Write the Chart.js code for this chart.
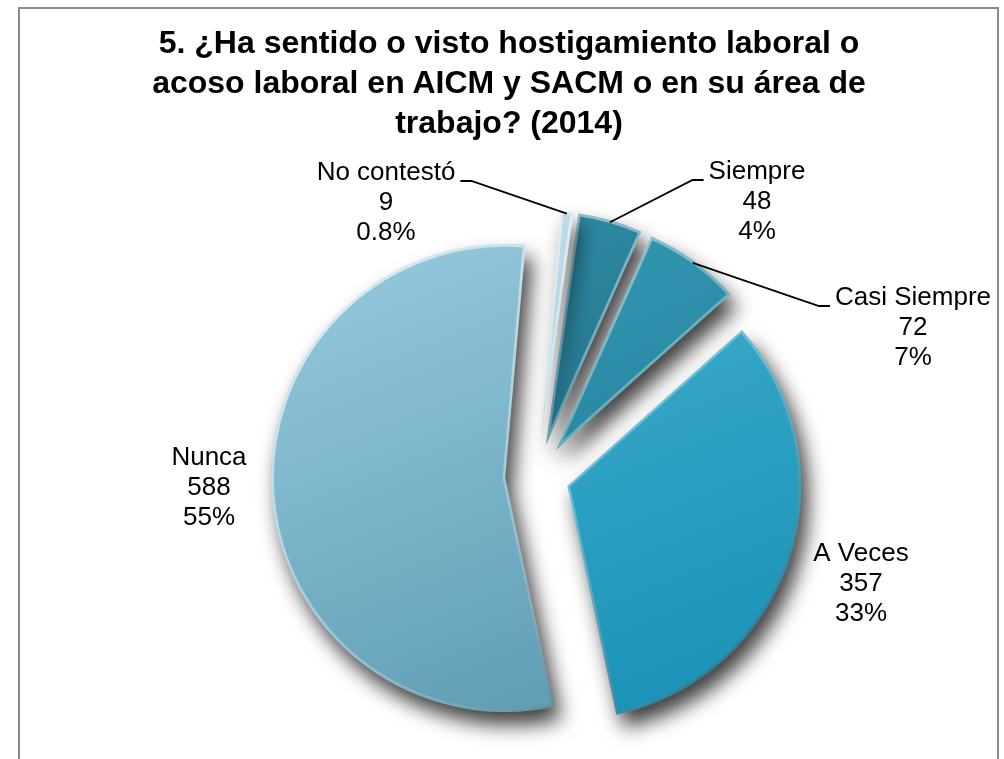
<!DOCTYPE html>
<html>
<head>
<meta charset="utf-8">
<script src="https://cdn.jsdelivr.net/npm/chart.js@4.4.0/dist/chart.umd.min.js"></script>
<style>
  html, body { margin: 0; padding: 0; background: #fff; overflow: hidden; }
  #frame {
    position: absolute; left: 18px; top: 7px; width: 981px; height: 800px;
    border: 2px solid #8c8c8c; box-sizing: border-box;
  }
  #title {
    position: absolute; left: 0; top: 22px; width: 1018px;
    text-align: center; white-space: nowrap;
    font: bold 32px "Liberation Sans", Arial, sans-serif; line-height: 40px; color: #000;
  }
  #chart { position: absolute; left: 0; top: 0; }
</style>
</head>
<body>
<div id="frame"></div>
<canvas id="chart" width="1004" height="759"></canvas>
<div id="title">5. ¿Ha sentido o visto hostigamiento laboral o<br>acoso laboral en AICM y SACM o en su área de<br>trabajo? (2014)</div>
<script>
// data
const categories = ['Siempre', 'Casi Siempre', 'A Veces', 'Nunca', 'No contestó'];
const counts = [48, 72, 357, 588, 9];
const pctLabels = ['4%', '7%', '33%', '55%', '0.8%'];

// styles
const topColors = ['#2f8ca6', '#359bb6', '#41b0cf', '#93c7da', '#c2deea'];
const bottomColors = ['#1a6378', '#1f7791', '#1a92b6', '#5d9cb3', '#98c1d2'];
const explode = 32;

// label block centres (first line) and leader side
const labelPos = [
  { x: 757, y: 172, leader: 'left' },
  { x: 913, y: 298, leader: 'left' },
  { x: 861, y: 554, leader: null },
  { x: 209, y: 458, leader: null },
  { x: 386, y: 173, leader: 'right' }
];

function fillGradient(ctx, arc, i) {
  const r = arc.outerRadius;
  const g = ctx.createLinearGradient(arc.x - r * 0.4, arc.y - r, arc.x + r * 0.4, arc.y + r);
  g.addColorStop(0, topColors[i]);
  g.addColorStop(1, bottomColors[i]);
  return g;
}

function rimGradient(ctx, arc) {
  const r = arc.outerRadius;
  const g = ctx.createLinearGradient(arc.x - r, arc.y - r, arc.x + r, arc.y + r);
  g.addColorStop(0, 'rgba(255,255,255,0.75)');
  g.addColorStop(0.5, 'rgba(255,255,255,0.3)');
  g.addColorStop(1, 'rgba(0,35,50,0.55)');
  return g;
}

const pieFx = {
  id: 'pieFx',
  beforeDatasetDraw(chart, args) {
    const ctx = chart.ctx;
    args.meta.data.forEach((arc, i) => {
      const mid = (arc.startAngle + arc.endAngle) / 2;
      const base = arc.options;
      ctx.save();
      ctx.translate(Math.cos(mid) * explode, Math.sin(mid) * explode);
      ctx.shadowColor = 'rgba(0,0,0,0.75)';
      ctx.shadowBlur = 20;
      ctx.shadowOffsetX = 7;
      ctx.shadowOffsetY = 13;
      arc.options = Object.assign({}, base, { backgroundColor: fillGradient(ctx, arc, i), borderWidth: 0, offset: 0 });
      arc.draw(ctx);
      ctx.shadowColor = 'rgba(0,0,0,0)';
      ctx.shadowBlur = 0;
      ctx.shadowOffsetX = 0;
      ctx.shadowOffsetY = 0;
      arc.options = Object.assign({}, base, {
        backgroundColor: 'rgba(0,0,0,0)', borderWidth: 2.5, borderAlign: 'inner',
        borderColor: rimGradient(ctx, arc), offset: 0
      });
      arc.draw(ctx);
      arc.options = base;
      ctx.restore();
    });
    return false;
  },
  afterDatasetsDraw(chart) {
    const ctx = chart.ctx;
    const arcs = chart.getDatasetMeta(0).data;
    ctx.save();
    ctx.font = '26px "Liberation Sans", Arial, sans-serif';
    ctx.fillStyle = '#000';
    ctx.textAlign = 'center';
    ctx.textBaseline = 'middle';
    categories.forEach((name, i) => {
      const p = labelPos[i];
      const lines = [name, String(counts[i]), pctLabels[i]];
      lines.forEach((t, k) => ctx.fillText(t, p.x, p.y + k * 30));
      if (p.leader) {
        const arc = arcs[i];
        const mid = (arc.startAngle + arc.endAngle) / 2;
        const rr = arc.outerRadius + explode - 2;
        const ex = arc.x + Math.cos(mid) * rr;
        const ey = arc.y + Math.sin(mid) * rr;
        const half = ctx.measureText(name).width / 2;
        const sx = p.leader === 'right' ? p.x + half + 5 : p.x - half - 5;
        const hx = p.leader === 'right' ? sx + 11 : sx - 11;
        const sy = p.y + 8;
        ctx.beginPath();
        ctx.moveTo(sx, sy);
        ctx.lineTo(hx, sy);
        ctx.lineTo(ex, ey);
        ctx.strokeStyle = '#000';
        ctx.lineWidth = 1.8;
        ctx.stroke();
      }
    });
    ctx.restore();
  }
};

new Chart(document.getElementById('chart'), {
  type: 'pie',
  data: {
    labels: categories,
    datasets: [{
      data: counts,
      backgroundColor: topColors,
      borderWidth: 0,
      clip: false
    }]
  },
  options: {
    responsive: false,
    animation: false,
    events: [],
    rotation: 8,
    radius: 234,
    layout: { padding: { left: 80, right: 10, top: 200, bottom: 7 } },
    plugins: {
      legend: { display: false },
      title: { display: false },
      tooltip: { enabled: false }
    }
  },
  plugins: [pieFx]
});
</script>
</body>
</html>
